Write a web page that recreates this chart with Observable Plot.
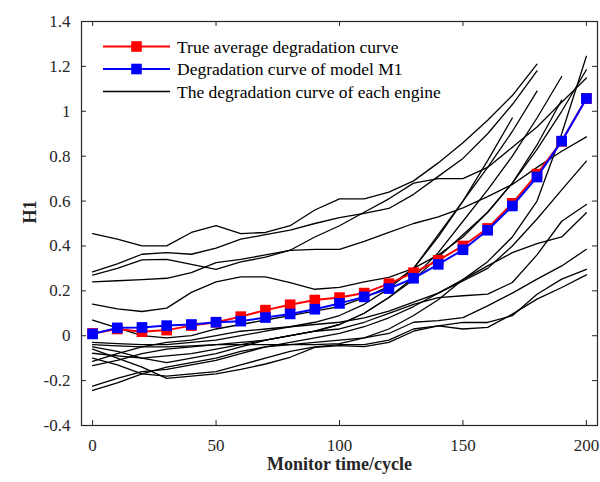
<!DOCTYPE html>
<html>
<head>
<meta charset="utf-8">
<script src="https://cdn.jsdelivr.net/npm/d3@7"></script>
<script src="https://cdn.jsdelivr.net/npm/@observablehq/plot@0.6"></script>
<style>
  html, body { margin: 0; padding: 0; background: #fff; }
  #chart { position: relative; width: 600px; height: 482px; }
  #chart svg text { font-family: 'Liberation Serif', 'Times New Roman', serif; }
  #legend { position: absolute; left: 0; top: 0; pointer-events: none; }
</style>
</head>
<body>
<div id="chart"></div>
<script>
// Monitoring times (cycles)
const cycles = [0,10,20,30,40,50,60,70,80,90,100,110,120,130,140,150,160,170,180,190,200];

// True average degradation curve
const trueAvg = [0.01,0.03,0.018,0.025,0.045,0.06,0.085,0.114,0.138,0.159,0.17,0.19,0.232,0.281,0.336,0.40,0.478,0.59,0.72,0.866,1.057];
// Degradation curve of model M1
const modelM1 = [0.008,0.035,0.037,0.045,0.05,0.06,0.065,0.081,0.097,0.118,0.144,0.173,0.21,0.256,0.318,0.383,0.47,0.578,0.707,0.867,1.057];

// Degradation curve of each engine (values from cycle 0, every 10 cycles)
const engine01 = [0.455,0.43,0.40,0.40,0.46,0.49,0.455,0.46,0.49,0.56,0.61,0.61,0.64,0.69,0.77,0.86,0.96,1.07,1.21];
const engine02 = [0.284,0.32,0.363,0.37,0.363,0.39,0.43,0.45,0.47,0.50,0.526,0.545,0.567,0.63,0.71,0.79,0.90,1.03,1.18];
const engine03 = [0.27,0.30,0.338,0.34,0.318,0.296,0.329,0.35,0.381,0.44,0.49,0.55,0.61,0.68,0.70,0.70,0.75,0.84,0.93,1.04,1.148];
const engine04 = [0.24,0.245,0.25,0.256,0.281,0.326,0.34,0.36,0.38,0.385,0.385,0.42,0.46,0.50,0.53,0.57,0.62,0.674,0.75,0.822,0.886];
const engine05 = [0.141,0.12,0.108,0.123,0.193,0.24,0.262,0.262,0.237,0.207,0.215,0.24,0.26,0.30,0.36,0.44,0.55,0.68,0.85,1.05];
const engine06 = [0.07,0.035,0.0,-0.01,0.0,0.03,0.05,0.07,0.09,0.11,0.13,0.17,0.22,0.30,0.45,0.60,0.75,0.91,1.09];
const engine07 = [-0.03,-0.035,-0.04,-0.04,-0.03,-0.02,0.0,0.02,0.04,0.06,0.09,0.14,0.21,0.30,0.44,0.60,0.78,0.97];
const engine08 = [-0.04,-0.045,-0.05,-0.05,-0.045,-0.04,-0.04,-0.04,-0.04,-0.04,-0.035,-0.01,0.03,0.09,0.16,0.25,0.33,0.44,0.60,0.90,1.245];
const engine09 = [-0.05,-0.07,-0.10,-0.12,-0.10,-0.08,-0.05,-0.02,0.0,0.02,0.05,0.10,0.17,0.25,0.35,0.45,0.55,0.68,0.83,1.0,1.185];
const engine10 = [-0.078,-0.09,-0.10,-0.09,-0.08,-0.06,-0.04,-0.02,0.0,0.02,0.05,0.10,0.17,0.26,0.37,0.51,0.65,0.80,0.97,1.155];
const engine11 = [-0.114,-0.08,-0.05,-0.03,-0.02,0.0,0.02,0.03,0.04,0.05,0.06,0.08,0.11,0.15,0.19,0.244,0.30,0.40,0.52,0.65,0.778];
const engine12 = [-0.133,-0.11,-0.08,-0.06,-0.05,-0.04,-0.03,-0.02,0.0,0.02,0.03,0.06,0.10,0.14,0.17,0.178,0.185,0.237,0.36,0.51,0.585];
const engine13 = [-0.225,-0.19,-0.16,-0.15,-0.13,-0.11,-0.08,-0.05,-0.03,-0.01,0.01,0.04,0.08,0.13,0.19,0.25,0.311,0.37,0.41,0.44,0.548];
const engine14 = [-0.244,-0.21,-0.17,-0.14,-0.12,-0.10,-0.07,-0.05,-0.04,-0.03,-0.02,-0.01,0.01,0.06,0.067,0.081,0.133,0.19,0.252,0.311,0.385];
const engine15 = [-0.06,-0.10,-0.14,-0.19,-0.18,-0.17,-0.15,-0.126,-0.096,-0.052,-0.044,-0.049,-0.03,0.02,0.044,0.059,0.059,0.089,0.185,0.252,0.296];
const engine16 = [-0.10,-0.13,-0.17,-0.18,-0.17,-0.16,-0.13,-0.10,-0.07,-0.05,-0.04,-0.04,-0.02,0.03,0.044,0.03,0.037,0.096,0.163,0.215,0.271];

const xTicks = [0, 50, 100, 150, 200];
const yTicks = [-0.4, -0.2, 0, 0.2, 0.4, 0.6, 0.8, 1, 1.2, 1.4];

const legendLabels = [
  "True average degradation curve",
  "Degradation curve of model M1",
  "The degradation curve of each engine"
];
const xLabel = "Monitor time/cycle";
const yLabel = "H1";

// ---- build tables ----
const engines = [engine01,engine02,engine03,engine04,engine05,engine06,engine07,engine08,
                 engine09,engine10,engine11,engine12,engine13,engine14,engine15,engine16];
const engineRows = engines.flatMap((vals, i) => vals.map((h, j) => ({engine: i, t: cycles[j], h})));
const avgRows = trueAvg.map((h, j) => ({t: cycles[j], h}));
const m1Rows = modelM1.map((h, j) => ({t: cycles[j], h}));

const W = 600, H = 482;
const mL = 81, mR = 3, mT = 21, mB = 57;
const innerH = H - mT - mB, innerW = W - mL - mR;
const tl = 5;
const axisColor = "#262626";
const serif = "'Liberation Serif', 'Times New Roman', serif";
const fmt = d => String(+d.toFixed(1));

const chart = Plot.plot({
  width: W, height: H,
  marginLeft: mL, marginRight: mR, marginTop: mT, marginBottom: mB,
  style: {fontFamily: serif, fontSize: "17px", color: axisColor, background: "#fff"},
  x: {domain: [-4.5, 204.5], label: null},
  y: {domain: [-0.4, 1.4], label: null},
  marks: [
    Plot.line(engineRows, {x: "t", y: "h", z: "engine", stroke: "#000", strokeWidth: 1.3}),
    Plot.line(avgRows, {x: "t", y: "h", stroke: "#ff0000", strokeWidth: 2}),
    Plot.dot(avgRows, {x: "t", y: "h", symbol: "square", r: 6, fill: "#ff0000", stroke: "none"}),
    Plot.line(m1Rows, {x: "t", y: "h", stroke: "#0000ff", strokeWidth: 2}),
    Plot.dot(m1Rows, {x: "t", y: "h", symbol: "square", r: 6, fill: "#0000ff", stroke: "none"}),
    // inward ticks
    Plot.tickX(xTicks, {x: d => d, insetTop: innerH - tl, stroke: axisColor, strokeWidth: 1}),
    Plot.tickX(xTicks, {x: d => d, insetBottom: innerH - tl, stroke: axisColor, strokeWidth: 1}),
    Plot.tickY(yTicks, {y: d => d, insetRight: innerW - tl, stroke: axisColor, strokeWidth: 1}),
    Plot.tickY(yTicks, {y: d => d, insetLeft: innerW - tl, stroke: axisColor, strokeWidth: 1}),
    Plot.axisX(xTicks, {tickSize: 0, tickPadding: 13, tickFormat: fmt, fill: axisColor, fontSize: 17, fontFamily: serif, fontVariant: "normal"}),
    Plot.axisY(yTicks, {tickSize: 0, tickPadding: 11, tickFormat: fmt, fill: axisColor, fontSize: 17, fontFamily: serif, fontVariant: "normal"}),
    Plot.frame({stroke: axisColor, strokeWidth: 1.2}),
    Plot.text([xLabel], {frameAnchor: "bottom", dy: 44, text: d => d, fontWeight: "bold", fontSize: 18, fontFamily: serif, fill: axisColor}),
    Plot.text([yLabel], {frameAnchor: "left", dx: -51, rotate: -90, text: d => d, fontWeight: "bold", fontSize: 18, fontFamily: serif, fill: axisColor})
  ]
});

const container = document.getElementById("chart");
container.appendChild(chart);

// ---- legend overlay ----
const ns = "http://www.w3.org/2000/svg";
const leg = document.createElementNS(ns, "svg");
leg.setAttribute("id", "legend");
leg.setAttribute("width", W);
leg.setAttribute("height", 120);
const legColors = ["#ff0000", "#0000ff", "#000000"];
const legMarker = [true, true, false];
const rowY = [46.5, 69, 91.5];
legendLabels.forEach((lab, i) => {
  const y = rowY[i];
  const ln = document.createElementNS(ns, "line");
  ln.setAttribute("x1", 103); ln.setAttribute("x2", 170);
  ln.setAttribute("y1", y); ln.setAttribute("y2", y);
  ln.setAttribute("stroke", legColors[i]);
  ln.setAttribute("stroke-width", i < 2 ? 2 : 1.3);
  leg.appendChild(ln);
  if (legMarker[i]) {
    const r = document.createElementNS(ns, "rect");
    r.setAttribute("x", 136.5 - 5.3); r.setAttribute("y", y - 5.3);
    r.setAttribute("width", 10.6); r.setAttribute("height", 10.6);
    r.setAttribute("fill", legColors[i]);
    leg.appendChild(r);
  }
  const t = document.createElementNS(ns, "text");
  t.setAttribute("x", 177); t.setAttribute("y", y);
  t.setAttribute("dy", "0.35em");
  t.setAttribute("font-family", serif);
  t.setAttribute("font-size", 17.5);
  t.setAttribute("fill", "#000");
  t.textContent = lab;
  leg.appendChild(t);
});
container.appendChild(leg);
</script>
</body>
</html>
